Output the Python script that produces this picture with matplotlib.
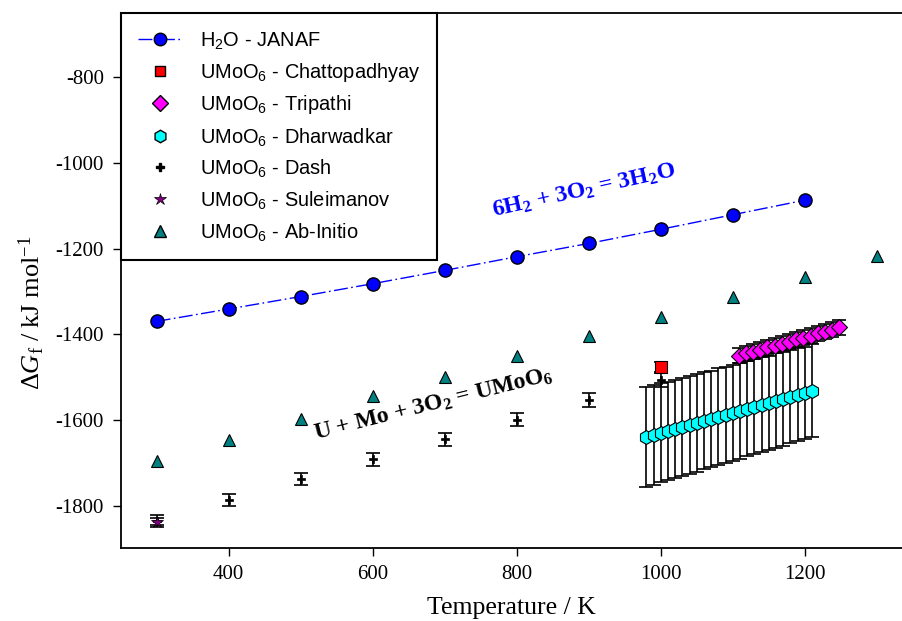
import numpy as np
import matplotlib
matplotlib.use("Agg")
import matplotlib.pyplot as plt
from matplotlib.lines import Line2D

plt.rcParams['mathtext.fontset'] = 'custom'
plt.rcParams['mathtext.rm'] = 'Liberation Serif'
plt.rcParams['mathtext.it'] = 'Liberation Serif:italic'
plt.rcParams['mathtext.bf'] = 'Liberation Serif:bold'
plt.rcParams['mathtext.sf'] = 'Liberation Sans'
plt.rcParams['axes.unicode_minus'] = False

# ---- data ----
h2o_T = [300, 400, 500, 600, 700, 800, 900, 1000, 1100, 1200]
h2o_G = [-1370, -1341, -1312, -1282, -1251, -1219, -1188, -1155, -1121, -1087]

abinit_T = [300, 400, 500, 600, 700, 800, 900, 1000, 1100, 1200, 1300]
abinit_G = [-1695, -1646, -1597, -1545, -1499, -1452, -1405, -1359, -1312, -1266, -1218]

dash_T = [300, 400, 500, 600, 700, 800, 900, 1000]
dash_G = [-1836, -1786, -1739, -1692, -1645, -1600, -1554, -1507]
dash_err = [13, 14, 14, 15, 15, 15, 16, 16]

chatto_T = [1000]
chatto_G = [-1477]
chatto_err = [12]

sulei_T = [300]
sulei_G = [-1838]
sulei_err = [8]

trip_T = [1108, 1118, 1128, 1138, 1148, 1158, 1168, 1178, 1188, 1198,
          1208, 1218, 1228, 1238, 1248]
trip_G = [-1450, -1445, -1441, -1436, -1431, -1427, -1422, -1417, -1412,
          -1408, -1403, -1398, -1394, -1389, -1384]
trip_err = [18, 18, 18, 18, 18, 18, 18, 18, 18, 18, 18, 18, 18, 18, 18]

dhar_T = [980, 990, 1000, 1010, 1020, 1030, 1040, 1050, 1060, 1070, 1080, 1090,
          1100, 1110, 1120, 1130, 1140, 1150, 1160, 1170, 1180, 1190, 1200, 1210]
dhar_G = [-1640, -1635, -1630, -1626, -1621, -1616, -1612, -1607, -1602, -1598,
          -1593, -1588, -1584, -1579, -1574, -1569, -1565, -1560, -1555, -1551,
          -1546, -1541, -1537, -1532]
dhar_err = [116, 116, 115, 115, 115, 114, 114, 114, 113, 113, 113, 112,
            112, 112, 111, 111, 111, 110, 110, 110, 109, 109, 108, 108]

xticks = [400, 600, 800, 1000, 1200]
yticks = [-800, -1000, -1200, -1400, -1600, -1800]

# ---- figure ----
fig = plt.figure(figsize=(9.02, 6.21), dpi=100)
ax = fig.add_axes([0.1338, 0.117, 0.8662, 0.862])

ekw = dict(ecolor='black', elinewidth=1.2, capsize=4.8, capthick=1.2, fmt='none')

# Dharwadkar
ax.errorbar(dhar_T, dhar_G, yerr=dhar_err, zorder=2, **ekw)
ax.plot(dhar_T, dhar_G, ls='none', marker='h', ms=10, mfc='#00ffff', mec='black',
        mew=0.8, zorder=3)
# Tripathi
ax.errorbar(trip_T, trip_G, yerr=trip_err, zorder=4, **ekw)
ax.plot(trip_T, trip_G, ls='none', marker='D', ms=8, mfc='#ff00ff', mec='black',
        mew=0.8, zorder=5)
# Dash
ax.errorbar(dash_T, dash_G, yerr=dash_err, zorder=4, **ekw)
ax.plot(dash_T, dash_G, ls='none', marker='P', ms=6, mfc='black', mec='black',
        mew=0.5, zorder=5)
# Suleimanov
ax.errorbar(sulei_T, sulei_G, yerr=sulei_err, zorder=4, **ekw)
ax.plot(sulei_T, sulei_G, ls='none', marker='*', ms=9, mfc='#800080', mec='black',
        mew=0.5, zorder=6)
# Chattopadhyay
ax.errorbar(chatto_T, chatto_G, yerr=chatto_err, zorder=4, **ekw)
ax.plot(chatto_T, chatto_G, ls='none', marker='s', ms=8, mfc='#ff0000', mec='black',
        mew=0.8, zorder=6)
# Ab initio
ax.plot(abinit_T, abinit_G, ls='none', marker='^', ms=9, mfc='#008080', mec='black',
        mew=0.8, zorder=5)
# H2O
h2o_ls = (0, (10, 2.5, 1.2, 2.5))
ax.plot(h2o_T, h2o_G, color='#0000ff', lw=1.0, ls=h2o_ls,
        marker='o', ms=9.5, mfc='#0000ff', mec='black', mew=1.0, zorder=5)

ax.set_xlim(250, 1335)
ax.set_ylim(-1900, -650)
ax.set_xticks(xticks)
ax.set_yticks(yticks)
ax.spines['right'].set_visible(False)
for s in ['left', 'bottom', 'top']:
    ax.spines[s].set_linewidth(1.3)
ax.tick_params(direction='out', length=6, width=1, top=False, right=False,
               labelsize=15, pad=6)
for lab in ax.get_xticklabels() + ax.get_yticklabels():
    lab.set_fontfamily('Liberation Serif')

ax.set_xlabel('Temperature / K', fontsize=18.5, fontfamily='Liberation Serif', labelpad=9)
ax.set_ylabel(r'$\Delta\mathit{G}_{\mathrm{f}}\ \mathrm{/\ kJ\ mol^{-1}}$', fontsize=19)
ax.yaxis.set_label_coords(-0.094, 0.44)

ax.text(893, -1066, r'6H$_\mathbf{2}$ + 3O$_\mathbf{2}$ = 3H$_\mathbf{2}$O', color='#0000ff',
        fontsize=17, fontfamily='Liberation Serif', fontweight='bold',
        rotation=12.5, ha='center', va='center', rotation_mode='anchor')
ax.text(685, -1565, r'U + Mo + 3O$_\mathbf{2}$ = UMoO$_\mathbf{6}$', color='black',
        fontsize=17, fontfamily='Liberation Serif', fontweight='bold',
        rotation=14, ha='center', va='center', rotation_mode='anchor')

handles = [
    Line2D([], [], color='#0000ff', lw=1.0, ls=h2o_ls, marker='o', ms=9,
           mfc='#0000ff', mec='black'),
    Line2D([], [], ls='none', marker='s', ms=7.5, mfc='#ff0000', mec='black'),
    Line2D([], [], ls='none', marker='D', ms=8, mfc='#ff00ff', mec='black'),
    Line2D([], [], ls='none', marker='h', ms=9, mfc='#00ffff', mec='black'),
    Line2D([], [], ls='none', marker='P', ms=6, mfc='black', mec='black'),
    Line2D([], [], ls='none', marker='*', ms=9, mfc='#800080', mec='black', mew=0.5),
    Line2D([], [], ls='none', marker='^', ms=8.5, mfc='#008080', mec='black'),
]
labels = [r'H$_\mathsf{2}$O - JANAF',
          r'UMoO$_\mathsf{6}$ - Chattopadhyay',
          r'UMoO$_\mathsf{6}$ - Tripathi',
          r'UMoO$_\mathsf{6}$ - Dharwadkar',
          r'UMoO$_\mathsf{6}$ - Dash',
          r'UMoO$_\mathsf{6}$ - Suleimanov',
          r'UMoO$_\mathsf{6}$ - Ab-Initio']
leg = ax.legend(handles, labels, loc='upper left', borderaxespad=0, fancybox=False,
                prop={'family': 'Liberation Sans', 'size': 14.4}, handlelength=2.25,
                labelspacing=0.48, borderpad=0.85, handletextpad=0.85, framealpha=1)
leg.get_frame().set_edgecolor('black')
leg.get_frame().set_linewidth(1.5)
leg.set_zorder(10)

fig.savefig('out.png', dpi=100)
